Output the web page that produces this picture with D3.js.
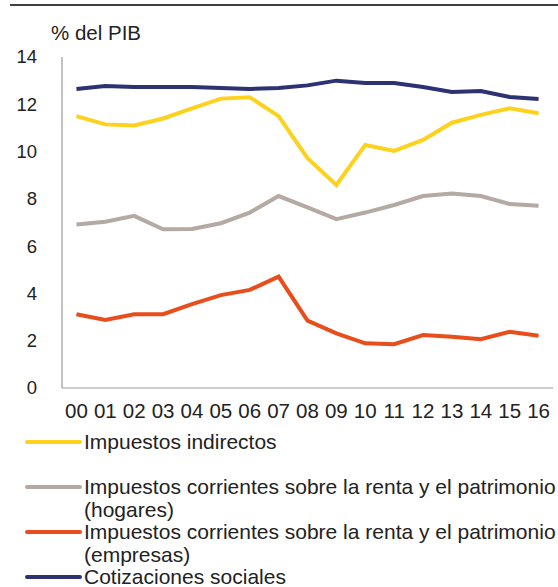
<!DOCTYPE html>
<html>
<head>
<meta charset="utf-8">
<script src="https://cdn.jsdelivr.net/npm/d3@7"></script>
<style>
  body { margin: 0; background: #fff; }
  svg { display: block; font-family: "Liberation Sans", Arial, sans-serif; }
</style>
</head>
<body>
<svg id="chart"></svg>
<script>
const years = ["00","01","02","03","04","05","06","07","08","09","10","11","12","13","14","15","16"];
const indirectos = [11.5,11.15,11.1,11.4,11.83,12.24,12.3,11.5,9.72,8.59,10.28,10.03,10.49,11.22,11.55,11.83,11.62];
const hogares = [6.92,7.03,7.28,6.71,6.73,6.97,7.42,8.12,7.64,7.14,7.42,7.74,8.12,8.23,8.12,7.78,7.71];
const empresas = [3.12,2.88,3.12,3.12,3.55,3.93,4.15,4.71,2.85,2.31,1.89,1.85,2.24,2.17,2.06,2.38,2.21];
const cotizaciones = [12.65,12.77,12.73,12.73,12.73,12.69,12.65,12.69,12.8,13.0,12.9,12.9,12.73,12.52,12.56,12.31,12.22];
const yTicks = [0,2,4,6,8,10,12,14];

const series = [
  { name: ["Impuestos indirectos"], values: indirectos, color: "#fdd21c" },
  { name: ["Impuestos corrientes sobre la renta y el patrimonio", "(hogares)"], values: hogares, color: "#b4a9a3" },
  { name: ["Impuestos corrientes sobre la renta y el patrimonio", "(empresas)"], values: empresas, color: "#e84e1b" },
  { name: ["Cotizaciones sociales"], values: cotizaciones, color: "#2d3272" }
];

const W = 558, H = 587;
const svg = d3.select("#chart").attr("width", W).attr("height", H);

// top rule
svg.append("line")
  .attr("x1", 10).attr("x2", W).attr("y1", 5).attr("y2", 5)
  .attr("stroke", "#000").attr("stroke-width", 1.5);

const x = d3.scalePoint().domain(years).range([62, 553]).padding(0.5);
const y = d3.scaleLinear().domain([0, 14]).range([388, 57]);

// axes lines
svg.append("line")
  .attr("x1", 62).attr("x2", 62).attr("y1", y(14)).attr("y2", y(0))
  .attr("stroke", "#999").attr("stroke-width", 1.2);
svg.append("line")
  .attr("x1", 62).attr("x2", 553).attr("y1", y(0)).attr("y2", y(0))
  .attr("stroke", "#999").attr("stroke-width", 1.2);

// y tick labels
svg.selectAll(".ytick")
  .data(yTicks)
  .enter()
  .append("text")
  .attr("x", 37)
  .attr("y", d => y(d))
  .attr("dy", "0.35em")
  .attr("text-anchor", "end")
  .style("font-size", "18.5px")
  .style("fill", "#222")
  .text(d => d);

// x tick labels
svg.selectAll(".xtick")
  .data(years)
  .enter()
  .append("text")
  .attr("x", d => x(d))
  .attr("y", 411)
  .attr("dy", "0.35em")
  .attr("text-anchor", "middle")
  .style("font-size", "20.5px")
  .style("fill", "#222")
  .text(d => d);

svg.append("text")
  .attr("x", 51).attr("y", 33)
  .attr("dy", "0.35em")
  .style("font-size", "20.5px")
  .style("fill", "#222")
  .text("% del PIB");

const line = d3.line()
  .x((d, i) => x(years[i]))
  .y(d => y(d));

svg.selectAll(".series")
  .data(series)
  .enter()
  .append("path")
  .attr("fill", "none")
  .attr("stroke", d => d.color)
  .attr("stroke-width", 4)
  .attr("stroke-linejoin", "miter")
  .attr("d", d => line(d.values));

// legend
const legendY = [442, 487, 532, 577];
const legend = svg.selectAll(".legend-item")
  .data(series)
  .enter()
  .append("g")
  .attr("transform", (d, i) => `translate(0, ${legendY[i]})`);

legend.append("line")
  .attr("x1", 27).attr("x2", 80)
  .attr("stroke", d => d.color)
  .attr("stroke-width", 4)
  .attr("stroke-linecap", "round");

legend.each(function (d) {
  const t = d3.select(this).append("text")
    .attr("x", 84)
    .style("font-size", "21px")
    .style("fill", "#222");
  d.name.forEach((s, j) => {
    t.append("tspan")
      .attr("x", 84)
      .attr("y", j * 22.5)
      .attr("dy", "0.35em")
      .text(s);
  });
});
</script>
</body>
</html>
